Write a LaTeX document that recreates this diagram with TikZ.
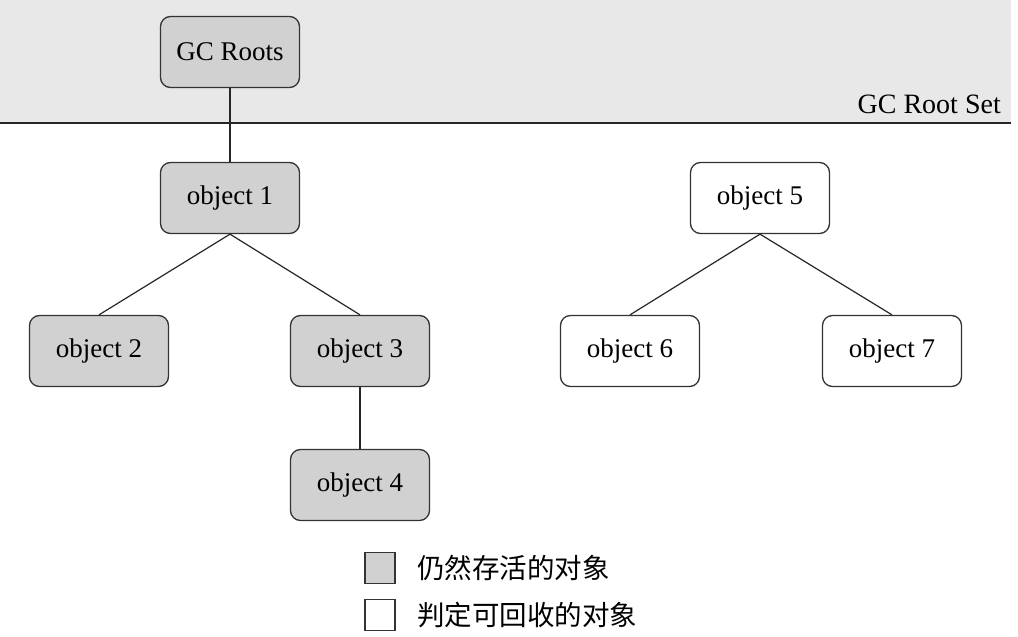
\documentclass[tikz,border=0pt]{standalone}
\usepackage{fontspec}
\setmainfont{Liberation Serif}
\newfontfamily\cjk{Noto Sans CJK SC}
\begin{document}
\begin{tikzpicture}[x=1pt,y=-1pt,
  obj/.style={draw=black!80,line width=1.3pt,rounded corners=10pt,minimum width=139pt,minimum height=71pt,inner sep=0pt,font=\fontsize{27}{32}\selectfont},
  live/.style={obj,fill=black!18},
  dead/.style={obj,fill=white},
  link/.style={draw=black!85,line width=1.2pt},
  legbox/.style={draw=black!80,line width=1.2pt,minimum width=30pt,minimum height=31pt,inner sep=0pt},
  legtext/.style={anchor=west,font=\cjk\fontsize{27.5}{32}\selectfont,inner sep=0pt}]
\useasboundingbox (0,0) rectangle (1018,637);
\fill[black!9] (0,0) rectangle (1011,123);
\coordinate (bandL) at (0,123);
\coordinate (bandR) at (1011,123);
\draw[line width=1.2pt,black!85] (bandL) -- (bandR);
\node[anchor=east,inner sep=0pt,font=\fontsize{28}{32}\selectfont] (setlabel) at (1001,104) {GC Root Set};

\node[live] (roots) at (230,52) {GC Roots};
\node[live] (o1) at (230,198) {object 1};
\node[live] (o2) at (99,351) {object 2};
\node[live] (o3) at (360,351) {object 3};
\node[live] (o4) at (360,485) {object 4};
\node[dead] (o5) at (760,198) {object 5};
\node[dead] (o6) at (630,351) {object 6};
\node[dead] (o7) at (892,351) {object 7};

\draw[link] (roots.south) -- (o1.north);
\draw[link] (o1.south) -- (o2.north);
\draw[link] (o1.south) -- (o3.north);
\draw[link] (o3.south) -- (o4.north);
\draw[link] (o5.south) -- (o6.north);
\draw[link] (o5.south) -- (o7.north);

\node[legbox,fill=black!18] (lg1) at (380,568) {};
\node[legbox,fill=white] (lg2) at (380,615) {};
\node[legtext] (lt1) at (417,568) {仍然存活的对象};
\node[legtext] (lt2) at (417,615) {判定可回收的对象};
\end{tikzpicture}
\end{document}
